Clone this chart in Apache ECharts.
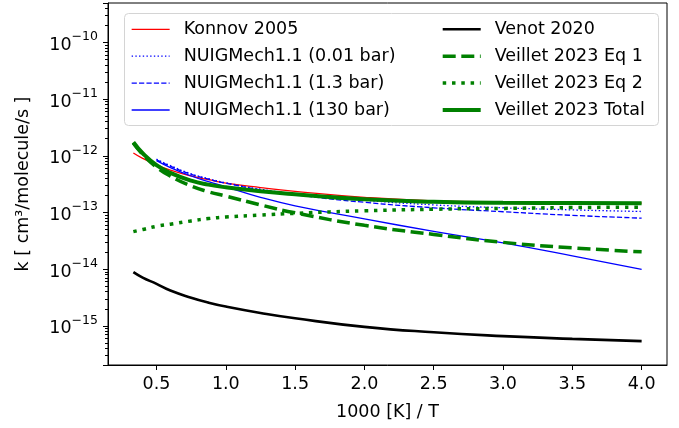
<!DOCTYPE html>
<html>
<head>
<meta charset="utf-8">
<script src="https://cdn.jsdelivr.net/npm/echarts@6/dist/echarts.min.js"></script>
<style>
  html, body { margin: 0; padding: 0; background: #fff; }
  #chart { width: 679px; height: 428px; }
</style>
</head>
<body>
<div id="chart"></div>
<script>
// 1000/T values
const xAll = [0.333, 0.4, 0.5, 0.6, 0.75, 0.875, 1.0, 1.25, 1.5, 2.0, 2.5, 3.0, 3.5, 4.0]
const xNuig = [0.5, 0.6, 0.75, 0.875, 1.0, 1.25, 1.5, 2.0, 2.5, 3.0, 3.5, 4.0]

const konnov = [1.12e-12, 9.0e-13, 6.9e-13, 5.6e-13, 4.4e-13, 3.78e-13, 3.3e-13, 2.75e-13, 2.36e-13, 1.85e-13, 1.6e-13, 1.53e-13, 1.49e-13, 1.46e-13]
const nuig001 = [8.7e-13, 6.7e-13, 4.8e-13, 3.95e-13, 3.34e-13, 2.57e-13, 2.14e-13, 1.64e-13, 1.36e-13, 1.21e-13, 1.11e-13, 1.04e-13]
const nuig13 = [8.5e-13, 6.55e-13, 4.7e-13, 3.87e-13, 3.27e-13, 2.51e-13, 2.05e-13, 1.51e-13, 1.21e-13, 1.03e-13, 8.9e-14, 7.94e-14]
const nuig130 = [8.2e-13, 6.2e-13, 4.4e-13, 3.5e-13, 2.84e-13, 1.85e-13, 1.31e-13, 7.7e-14, 4.65e-14, 2.91e-14, 1.72e-14, 9.9e-15]
const venot = [8.85e-15, 7.1e-15, 5.5e-15, 4.2e-15, 3.14e-15, 2.57e-15, 2.19e-15, 1.69e-15, 1.36e-15, 9.6e-16, 7.7e-16, 6.6e-16, 5.9e-16, 5.37e-16]
const veilletEq1 = [1.66e-12, 1.06e-12, 6.27e-13, 4.38e-13, 2.93e-13, 2.32e-13, 1.95e-13, 1.36e-13, 9.85e-14, 5.93e-14, 4.1e-14, 2.97e-14, 2.38e-14, 2.02e-14]
const veilletEq2 = [4.6e-14, 5.0e-14, 5.7e-14, 6.2e-14, 7.1e-14, 7.8e-14, 8.3e-14, 8.98e-14, 9.66e-14, 1.07e-13, 1.14e-13, 1.18e-13, 1.22e-13, 1.24e-13]
const veilletTotal = [1.73e-12, 1.11e-12, 6.84e-13, 5.0e-13, 3.64e-13, 3.1e-13, 2.78e-13, 2.36e-13, 2.09e-13, 1.71e-13, 1.54e-13, 1.48e-13, 1.47e-13, 1.46e-13]

const xTicks = [0.5, 1.0, 1.5, 2.0, 2.5, 3.0, 3.5, 4.0]

const FONT = 'DejaVu Sans'

const pairs = (xs, ys) => ys.map((y, i) => [xs[i], y])

const line = (name, xs, ys, color, width, dash) => ({
  name: name,
  type: 'line',
  data: pairs(xs, ys),
  symbol: 'none',
  smooth: 0.5,
  lineStyle: { color: color, width: width, type: dash || 'solid', cap: 'butt' },
  itemStyle: { color: color }
})

const chart = echarts.init(document.getElementById('chart'))

const legendBase = {
  orient: 'vertical',
  top: 19,
  padding: 0,
  itemWidth: 38,
  itemHeight: 14,
  itemGap: 6.3,
  itemStyle: { opacity: 0 }, // hide the marker, keep the line
  lineStyle: { width: 'inherit' },
  textStyle: { fontFamily: FONT, fontSize: 17.5, color: '#000', lineHeight: 20.6, padding: [0, 0, 0, 9] }
}

const option = {
  animation: false,
  grid: {
    left: 108, right: 12, top: 3, bottom: 63,
    show: true, borderColor: '#000', borderWidth: 1
  },
  graphic: [{
    type: 'rect',
    left: 124, top: 13,
    shape: { width: 534, height: 112, r: 4 },
    style: { fill: '#fff', stroke: '#d4d4d4', lineWidth: 1 },
    z: 3
  }],
  legend: [
    Object.assign({ left: 131, data: ['Konnov 2005', 'NUIGMech1.1 (0.01 bar)', 'NUIGMech1.1 (1.3 bar)', 'NUIGMech1.1 (130 bar)'] }, legendBase),
    Object.assign({ left: 440.7, data: ['Venot 2020', 'Veillet 2023 Eq 1', 'Veillet 2023 Eq 2', 'Veillet 2023 Total'] }, legendBase)
  ],
  xAxis: {
    type: 'value',
    min: 0.15,
    max: 4.183,
    name: '1000 [K] / T',
    nameLocation: 'middle',
    nameGap: 38,
    nameTextStyle: { fontFamily: FONT, fontSize: 17.5, color: '#000' },
    axisLine: { lineStyle: { color: '#000', width: 1 } },
    axisTick: { customValues: xTicks, length: 5, lineStyle: { color: '#000' } },
    axisLabel: {
      customValues: xTicks,
      margin: 10,
      fontFamily: FONT, fontSize: 17.5, color: '#000',
      formatter: v => v.toFixed(1)
    },
    splitLine: { show: false }
  },
  yAxis: {
    type: 'log',
    logBase: 10,
    min: 2.04e-16,
    max: 4.95e-10,
    name: 'k [ cm³/molecule/s ]',
    nameLocation: 'middle',
    nameGap: 76,
    nameTextStyle: { fontFamily: FONT, fontSize: 17.5, color: '#000' },
    axisLine: { show: true, lineStyle: { color: '#000', width: 1 } },
    axisTick: { length: 5, lineStyle: { color: '#000' } },
    minorTick: { show: true, splitNumber: 9, length: 3, lineStyle: { color: '#000' } },
    axisLabel: {
      margin: 10,
      showMinLabel: false,
      showMaxLabel: false,
      formatter: v => {
        const e = Math.round(Math.log10(v))
        return '{b|10}{s|−' + Math.abs(e) + '}'
      },
      rich: {
        b: { fontFamily: FONT, fontSize: 17.5, color: '#000', lineHeight: 24, verticalAlign: 'bottom' },
        s: { fontFamily: FONT, fontSize: 12.5, color: '#000', lineHeight: 14, verticalAlign: 'top' }
      }
    },
    splitLine: { show: false }
  },
  series: [
    line('Konnov 2005', xAll, konnov, '#ff0000', 1.3),
    line('NUIGMech1.1 (0.01 bar)', xNuig, nuig001, '#0000ff', 1.3, [1.4, 2.3]),
    line('NUIGMech1.1 (1.3 bar)', xNuig, nuig13, '#0000ff', 1.3, [5.2, 2.2]),
    line('NUIGMech1.1 (130 bar)', xNuig, nuig130, '#0000ff', 1.3),
    line('Venot 2020', xAll, venot, '#000000', 2.6),
    line('Veillet 2023 Eq 1', xAll, veilletEq1, '#008000', 3.5, [13, 5.6]),
    line('Veillet 2023 Eq 2', xAll, veilletEq2, '#008000', 3.5, [3.5, 5.8]),
    line('Veillet 2023 Total', xAll, veilletTotal, '#008000', 4)
  ]
}

chart.setOption(option)
</script>
</body>
</html>
